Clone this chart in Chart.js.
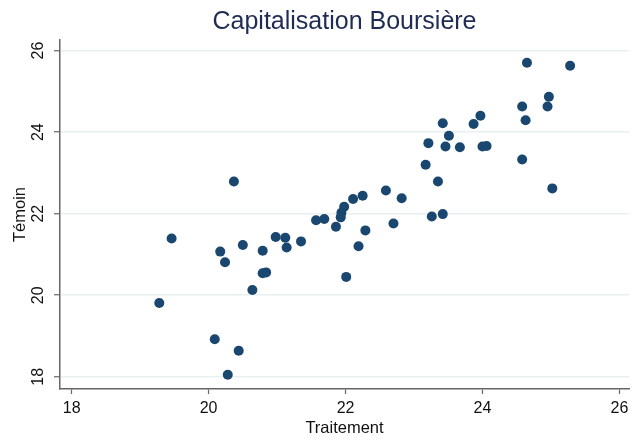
<!DOCTYPE html>
<html>
<head>
<meta charset="utf-8">
<script src="https://cdn.jsdelivr.net/npm/chart.js@4"></script>
<style>
html,body{margin:0;padding:0;background:#fff;}
#wrap{width:634px;height:443px;position:relative;}
</style>
</head>
<body>
<div id="wrap"><canvas id="c" width="634" height="443"></canvas></div>
<script>
const titleText = "Capitalisation Boursière";
const xLabel = "Traitement";
const yLabel = "Témoin";
const xTicks = [18, 20, 22, 24, 26];
const yTicks = [18, 20, 22, 24, 26];
const traitement = [24.65, 25.28, 24.97, 24.58, 24.95, 24.63, 23.42, 23.97, 23.87, 23.51,
  23.21, 23.46, 23.67, 24.00, 24.06, 24.58, 23.17, 23.35, 25.02, 20.37,
  22.59, 22.82, 22.25, 22.11, 21.98, 21.94, 21.93, 23.26, 23.42, 21.57,
  21.69, 21.86, 22.70, 22.29, 22.19, 22.01, 19.46, 20.98, 21.12, 21.14,
  21.35, 20.50, 20.17, 20.79, 20.24, 20.79, 20.84, 20.64, 19.28, 20.09,
  20.44, 20.28];
const temoin = [25.70, 25.63, 24.87, 24.63, 24.63, 24.29, 24.22, 24.40, 24.20, 23.91,
  23.73, 23.65, 23.63, 23.65, 23.66, 23.33, 23.20, 22.79, 22.62, 22.79,
  22.57, 22.38, 22.44, 22.36, 22.17, 22.02, 21.91, 21.93, 21.99, 21.84,
  21.87, 21.68, 21.76, 21.59, 21.20, 20.45, 21.39, 21.43, 21.41, 21.17,
  21.32, 21.23, 21.07, 21.09, 20.81, 20.54, 20.56, 20.13, 19.81, 18.92,
  18.64, 18.05];

const points = traitement.map((x, i) => ({x: x, y: temoin[i]}));
const FONT = "'Liberation Sans', Arial, Helvetica, sans-serif";

const yLabelPlugin = {
  id: 'yRotLabels',
  afterDraw(chart) {
    const s = chart.scales.y;
    const ctx = chart.ctx;
    ctx.save();
    ctx.fillStyle = '#111';
    ctx.font = '16px ' + FONT;
    ctx.textAlign = 'center';
    ctx.textBaseline = 'middle';
    yTicks.forEach(v => {
      const py = s.getPixelForValue(v);
      ctx.save();
      ctx.translate(39, py);
      ctx.rotate(-Math.PI / 2);
      ctx.fillText(String(v), 0, 0);
      ctx.restore();
    });
    ctx.restore();
  }
};

new Chart(document.getElementById('c'), {
  type: 'scatter',
  data: {
    datasets: [{
      data: points,
      backgroundColor: '#1a476f',
      borderWidth: 0,
      pointRadius: 5,
      pointHoverRadius: 5
    }]
  },
  options: {
    responsive: false,
    animation: false,
    devicePixelRatio: 1,
    layout: {padding: {left: 0, right: 3, top: 0, bottom: 0}},
    plugins: {
      legend: {display: false},
      tooltip: {enabled: false},
      title: {
        display: true,
        text: titleText,
        fullSize: false,
        color: '#1e2b52',
        font: {family: FONT, size: 25, weight: 'normal'},
        padding: {top: 7, bottom: 3}
      }
    },
    scales: {
      x: {
        type: 'linear',
        min: 17.83,
        max: 26.14,
        afterBuildTicks: s => { s.ticks = xTicks.map(v => ({value: v})); },
        afterFit: s => { s.height = 54; },
        border: {display: true, color: '#666', width: 1.5},
        grid: {display: true, drawOnChartArea: false, drawTicks: true, tickLength: 5, tickColor: '#666', tickWidth: 1.2},
        ticks: {color: '#111', font: {family: FONT, size: 16}, padding: 5, maxRotation: 0, minRotation: 0},
        title: {display: true, text: xLabel, color: '#111', font: {family: FONT, size: 16.5}, padding: {top: 0, bottom: 5}}
      },
      y: {
        type: 'linear',
        min: 17.70,
        max: 26.26,
        afterBuildTicks: s => { s.ticks = yTicks.map(v => ({value: v})); },
        afterFit: s => { s.width = 60; },
        border: {display: true, color: '#666', width: 1.5},
        grid: {display: true, drawOnChartArea: true, drawTicks: true, tickLength: 6, color: '#e8f0f1', lineWidth: 1.5, tickColor: '#666', tickWidth: 1.2},
        ticks: {display: false},
        title: {display: true, text: yLabel, color: '#111', font: {family: FONT, size: 16.5}, padding: {top: 11, bottom: 0}}
      }
    }
  },
  plugins: [yLabelPlugin]
});
</script>
</body>
</html>
